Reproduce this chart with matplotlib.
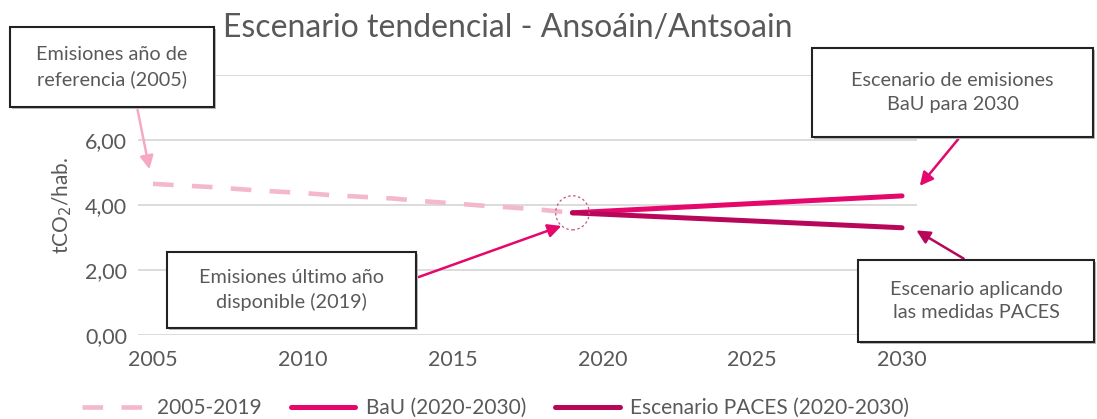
import matplotlib.pyplot as plt
from matplotlib.patches import Ellipse

plt.rcParams['font.family'] = ['Lato', 'DejaVu Sans']

# data (tCO2/hab.)
hist_years = list(range(2005, 2020))
hist_vals = [4.65, 4.60, 4.55, 4.48, 4.42, 4.37, 4.30, 4.25, 4.20, 4.12, 4.05, 3.98, 3.92, 3.85, 3.76]
scen_years = [2019, 2030]
bau_vals = [3.76, 4.28]
paces_vals = [3.76, 3.30]

x_ticks = [2005, 2010, 2015, 2020, 2025, 2030]
y_ticks = [0, 2, 4, 6, 8]
# the 8,00 label sits hidden behind the reference callout
y_labels = ['0,00', '2,00', '4,00', '6,00', '']

c_hist = '#F4B8CB'
c_bau = '#E5076B'
c_paces = '#B8075A'
c_text = '#595959'

W, H = 1097, 419
fig = plt.figure(figsize=(W / 100, H / 100), dpi=100)
ax = fig.add_axes([138 / W, 1 - 335 / H, (917 - 138) / W, 260 / H])

def fp(x, y):
    # figure pixel -> figure fraction
    return (x / W, 1 - y / H)

ax.plot(hist_years, hist_vals, color=c_hist, lw=3.3, dashes=(4.5, 4), label='2005-2019',
        dash_capstyle='butt')
ax.plot(scen_years, bau_vals, color=c_bau, lw=3.6, label='BaU (2020-2030)', solid_capstyle='round')
ax.plot(scen_years, paces_vals, color=c_paces, lw=3.6, label='Escenario PACES (2020-2030)',
        solid_capstyle='round')

ax.set_xlim(2004.5, 2030.5)
ax.set_ylim(0, 8)
ax.set_xticks(x_ticks)
ax.set_yticks(y_ticks)
ax.set_yticklabels(y_labels)
ax.grid(axis='y', color='#D9D9D9', lw=1.3)
ax.set_axisbelow(True)
for s in ax.spines.values():
    s.set_visible(False)
ax.tick_params(length=0, labelsize=15.5, labelcolor=c_text, pad=8)
ax.tick_params(axis='x', pad=11)
ax.set_ylabel('tCO$_2$/hab.', fontsize=15, color=c_text, labelpad=8)

# dashed circle around the last historical point
ax.add_patch(Ellipse((hist_years[-1], hist_vals[-1]), 1.12, 1.05, fill=False,
                     ec='#D0508A', ls=(0, (2, 2)), lw=0.9, zorder=5))

fig.text(*fp(508, 28), 'Escenario tendencial - Ansoáin/Antsoain', ha='center', va='center',
         fontsize=23, color=c_text)

leg = ax.legend(loc='center left', bbox_to_anchor=fp(82, 408),
                bbox_transform=fig.transFigure, ncol=3, frameon=False, fontsize=15,
                handlelength=3.1, columnspacing=1.4, handletextpad=0.5,
                borderaxespad=0, borderpad=0)
for t in leg.get_texts():
    t.set_color(c_text)

def callout(x0, y0, x1, y1, text):
    r = plt.Rectangle(fp(x0, y1), (x1 - x0) / W, (y1 - y0) / H, transform=fig.transFigure,
                      fc='white', ec='#222222', lw=1.5, zorder=10)
    fig.add_artist(r)
    sh = plt.Rectangle(fp(x0 + 2, y1 + 2), (x1 - x0) / W, (y1 - y0) / H, transform=fig.transFigure,
                       fc='#BBBBBB', ec='none', zorder=9)
    fig.add_artist(sh)
    fig.text(*fp((x0 + x1) / 2, (y0 + y1) / 2), text, ha='center', va='center', fontsize=14.3,
             color=c_text, linespacing=1.45, zorder=11)

def arrow(xt, yt, xh, yh, color):
    fig.add_artist(plt.Annotation('', xy=fp(xh, yh), xytext=fp(xt, yt), xycoords='figure fraction',
                                  textcoords='figure fraction',
                                  arrowprops=dict(arrowstyle='-|>,head_length=0.8,head_width=0.4',
                                                  color=color, lw=1.8)))

callout(10, 27, 214, 107, 'Emisiones año de\nreferencia (2005)')
callout(167, 252, 416, 328, 'Emisiones último año\ndisponible (2019)')
callout(812, 48, 1093, 137, 'Escenario de emisiones\nBaU para 2030')
callout(858, 260, 1094, 342, 'Escenario aplicando\nlas medidas PACES')

arrow(137, 107, 150, 172, '#F7A8C4')
arrow(416, 278, 564, 225, c_bau)
arrow(960, 137, 918, 188, c_bau)
arrow(966, 260, 914, 229, c_paces)

fig.savefig('out.png', dpi=100)
